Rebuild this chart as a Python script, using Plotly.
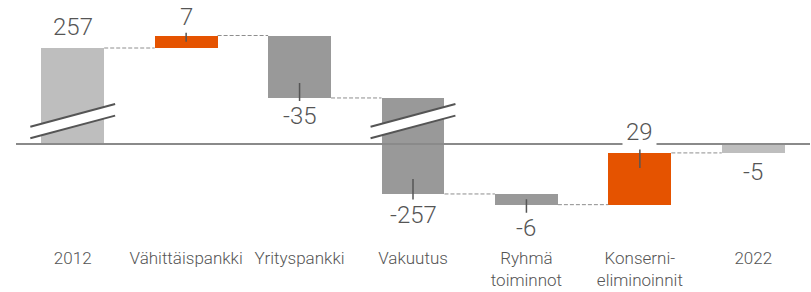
import plotly.graph_objects as go

# ---------------- data ----------------
categories = ["2012", "Vähittäispankki", "Yrityspankki", "Vakuutus",
              "Ryhmä<br>toiminnot", "Konserni-<br>eliminoinnit", "2022"]
values = [257, 7, -35, -257, -6, 29, -5]
measures = ["total", "relative", "relative", "relative", "relative", "relative", "total"]
value_labels = ["257", "7", "-35", "-257", "-6", "29", "-5"]

# ---------------- style ----------------
ORANGE = "#E55300"
DARK = "#999999"
LIGHT = "#BEBEBE"
bar_colors = [LIGHT, ORANGE, DARK, DARK, DARK, ORANGE, LIGHT]
TEXT = "#555555"
BAR_W = 0.555
PX_PER_UNIT = 1.785
# broken axis: values above BREAK_FROM are shifted down by CUT
CUT = 203.2
BREAK_FROM = 100
broken = [True, False, False, True, False, False, False]

def disp(v):
    return v - CUT if v > BREAK_FROM else v

# compute bases / ends
bases, ends = [], []
running = 0
for v, m in zip(values, measures):
    if m == "total":
        b, e = 0, v
    else:
        b, e = running, running + v
    bases.append(b)
    ends.append(e)
    running = e

d_base = [disp(b) for b in bases]
d_end = [disp(e) for e in ends]
d_height = [e - b for b, e in zip(d_base, d_end)]
xs = list(range(len(categories)))

fig = go.Figure()
fig.add_trace(go.Bar(
    x=xs, y=d_height, base=d_base, width=BAR_W,
    marker=dict(color=bar_colors, line=dict(width=0)),
    hoverinfo="skip", showlegend=False,
))

shapes = []
# dashed connectors
for i in range(len(xs) - 1):
    shapes.append(dict(type="line", xref="x", yref="y",
                       x0=xs[i] + BAR_W / 2, x1=xs[i + 1] - BAR_W / 2,
                       y0=d_end[i], y1=d_end[i],
                       line=dict(color="#8e8e8e", width=1, dash="4px,2px"),
                       layer="above"))
# baseline axis line
shapes.append(dict(type="line", xref="paper", yref="y", x0=0, x1=1, y0=0, y1=0,
                   line=dict(color="#8a8a8a", width=2), layer="above"))

# break marks
BRK_Y = 3.2        # display units, lower line left end
BRK_RISE = 12.7
BRK_GAP = 6.5
BRK_HALF = 0.374
for i, is_b in enumerate(broken):
    if not is_b:
        continue
    xl, xr = xs[i] - BRK_HALF, xs[i] + BRK_HALF
    y1l, y1r = BRK_Y, BRK_Y + BRK_RISE
    y2l, y2r = y1l + BRK_GAP, y1r + BRK_GAP
    shapes.append(dict(type="path", xref="x", yref="y",
                       path=f"M {xl},{y1l} L {xr},{y1r} L {xr},{y2r} L {xl},{y2l} Z",
                       fillcolor="white", line=dict(width=0), layer="above"))
    for (a, b) in [(y1l, y1r), (y2l, y2r)]:
        shapes.append(dict(type="line", xref="x", yref="y", x0=xl, x1=xr, y0=a, y1=b,
                           line=dict(color="#555555", width=2), layer="above"))

# value labels: (arrow endpoint mode, pixel offset of label centre, leader line)
label_style = [
    ("top", -21, False),
    ("mid", -24.5, True),
    ("inner", 33.5, True),
    ("inner", 36, True),
    ("mid", 29, True),
    ("inner", -36, True),
    ("end", 19.5, False),
]
annotations = []
INNER = 15 / PX_PER_UNIT
for i, (mode, off, leader) in enumerate(label_style):
    b, e = d_base[i], d_end[i]
    if mode == "mid":
        ypt = (b + e) / 2
    elif mode == "inner":
        ypt = e + INNER if e < b else e - INNER
    else:
        ypt = e
    ann = dict(x=xs[i], y=ypt, xref="x", yref="y", text=value_labels[i],
               font=dict(family="Roboto", size=24, color=TEXT, weight=300))
    if leader:
        ann.update(showarrow=True, arrowhead=0, arrowwidth=1.5, arrowcolor="#555555",
                   ax=0, ay=off, standoff=0, startstandoff=0)
        if value_labels[i] == "29":
            ann.update(bgcolor="white", borderpad=3)
    else:
        ann.update(showarrow=False, yshift=-off)
    annotations.append(ann)

fig.update_layout(
    width=811, height=292,
    margin=dict(l=16, r=1, t=0, b=52),
    paper_bgcolor="white", plot_bgcolor="white",
    shapes=shapes, annotations=annotations,
    bargap=0,
    xaxis=dict(range=[-0.5, 6.5], tickmode="array", tickvals=xs, ticktext=categories,
               showgrid=False, zeroline=False, showline=False, ticks="",
               ticklabelstandoff=6,
               tickfont=dict(family="Roboto", size=17, color=TEXT, weight=300),
               fixedrange=True),
    yaxis=dict(range=[-53.8, 80.7], visible=False, showgrid=False, zeroline=False,
               fixedrange=True),
)

fig.write_html("out.html", config={"displayModeBar": False},
               post_script="document.body.style.margin='0';document.body.style.overflow='hidden';")
